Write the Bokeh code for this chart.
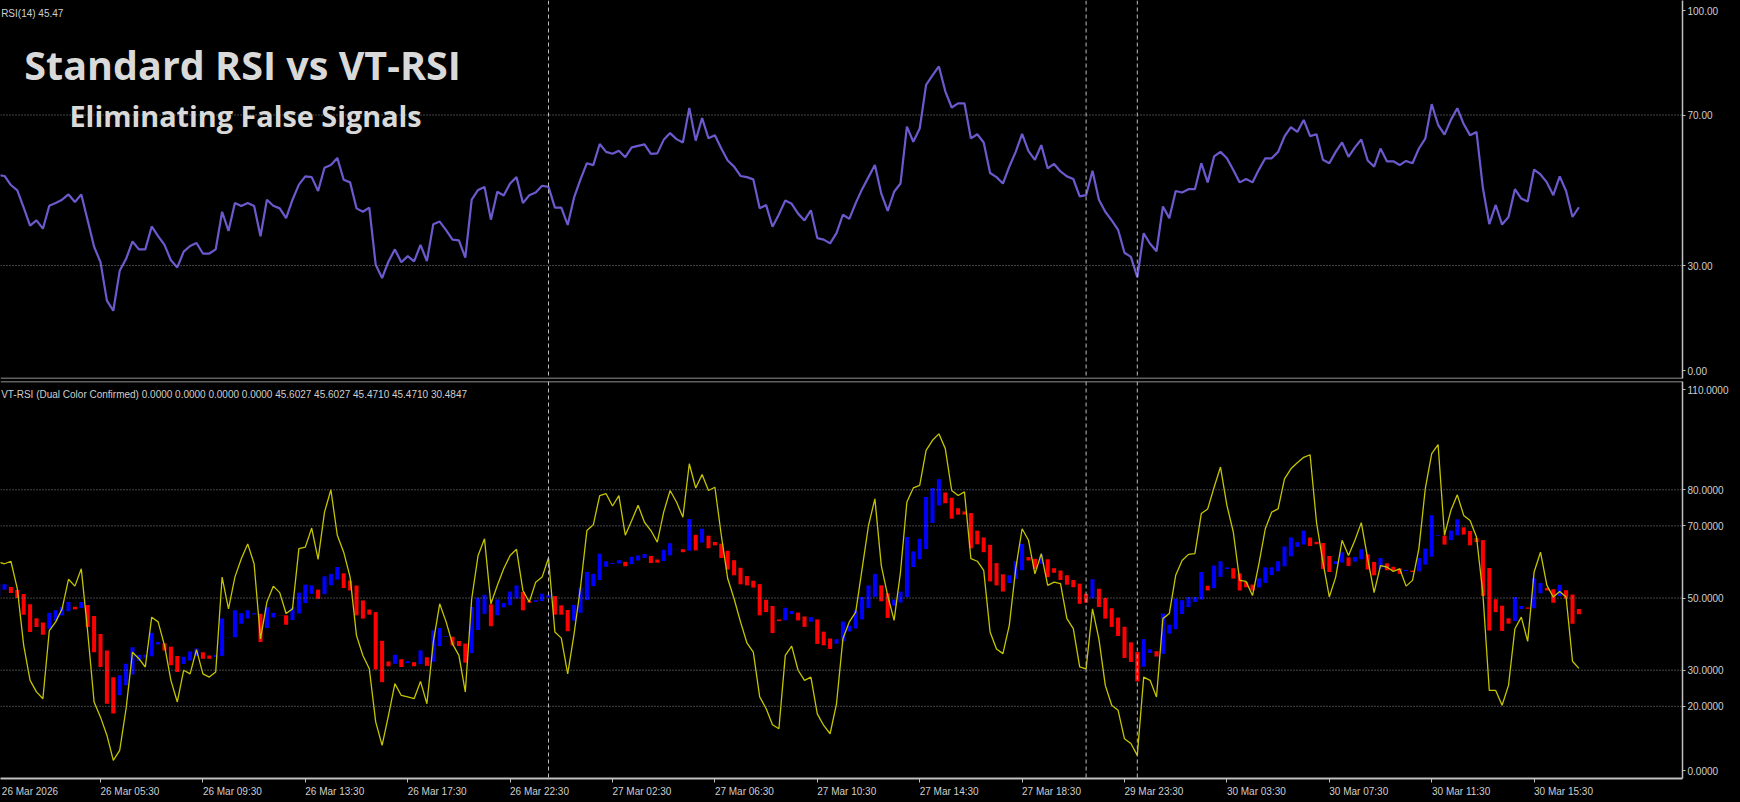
from bokeh.plotting import figure
from bokeh.models import (Range1d, LinearAxis, FixedTicker, Span, Label,
                          ColumnDataSource, CustomJSTickFormatter)
from bokeh.layouts import column
from bokeh.embed import file_html
from bokeh.resources import INLINE

# ---------------- data ----------------
first_bar = -16  # bar index of first value (0 = 26 Mar 05:30, M15 bars)

# RSI(14) = VT-RSI close
rsi = [
    54.0, 53.8, 51.4, 50.0, 45.4, 40.6, 42.0, 39.8, 45.9, 46.6,
    47.5, 48.9, 46.9, 48.9, 42.0, 35.0, 30.9, 20.7, 18.0, 28.6,
    31.8, 36.4, 34.3, 34.3, 40.4, 37.8, 35.5, 31.4, 29.5, 33.7,
    35.2, 36.0, 33.2, 33.2, 34.3, 44.3, 39.2, 46.6, 45.8, 46.6,
    45.8, 37.8, 47.5, 45.9, 45.2, 42.6, 47.5, 51.5, 53.7, 53.5,
    49.8, 56.0, 56.7, 58.6, 52.8, 52.1, 45.2, 44.3, 45.4, 30.2,
    26.7, 31.1, 34.3, 30.9, 32.5, 31.1, 35.5, 31.2, 41.0, 41.7,
    39.4, 36.9, 36.7, 32.1, 47.5, 50.1, 50.9, 42.2, 49.6, 48.6,
    51.8, 53.5, 46.6, 48.7, 49.4, 51.2, 50.9, 45.4, 45.4, 40.8,
    48.1, 52.9, 57.2, 56.7, 62.3, 60.2, 59.7, 60.5, 58.8, 61.4,
    61.8, 62.2, 59.7, 59.8, 63.4, 65.2, 63.6, 62.7, 71.9, 63.2,
    69.2, 63.8, 64.6, 61.1, 57.9, 56.3, 53.8, 53.5, 52.9, 45.2,
    46.1, 40.3, 43.6, 47.3, 46.4, 43.8, 42.0, 44.7, 37.3, 36.9,
    35.9, 38.6, 43.5, 42.4, 46.6, 50.3, 53.5, 56.7, 49.1, 44.5,
    49.6, 51.8, 66.9, 62.9, 66.4, 78.0, 80.5, 82.9, 76.3, 72.0,
    73.1, 73.1, 63.8, 64.9, 62.7, 54.6, 53.5, 51.8, 56.3, 60.2,
    65.0, 60.4, 58.1, 62.0, 55.8, 57.0, 55.0, 53.7, 53.0, 48.4,
    48.7, 55.2, 47.5, 44.3, 42.0, 39.5, 33.4, 32.3, 26.9, 38.6,
    35.8, 33.8, 45.7, 42.6, 49.8, 49.4, 50.3, 50.3, 57.2, 52.1,
    59.0, 60.2, 58.5, 55.4, 52.1, 53.0, 52.1, 55.5, 58.5, 58.5,
    60.2, 64.3, 66.8, 65.5, 68.7, 64.4, 64.9, 58.1, 57.2, 60.2,
    62.7, 58.9, 61.4, 63.5, 57.9, 56.3, 61.1, 57.7, 57.7, 56.7,
    57.8, 57.2, 61.1, 63.7, 72.9, 67.4, 64.8, 68.7, 71.8, 67.6,
    64.6, 65.5, 50.6, 41.0, 46.1, 40.9, 42.9, 50.3, 47.8, 47.0,
    55.5, 54.2, 52.1, 48.7, 53.7, 49.8, 42.9, 45.5,
]

# fast (yellow) line
fast = [
    60.0, 59.5, 60.2, 52.6, 36.9, 27.2, 24.0, 22.1, 41.0, 43.4,
    47.0, 55.2, 53.3, 58.1, 40.6, 21.2, 17.0, 12.0, 5.0, 7.8,
    19.4, 35.0, 33.2, 30.9, 44.7, 43.4, 36.9, 27.2, 21.2, 30.0,
    29.0, 35.7, 29.0, 28.1, 29.5, 55.8, 47.0, 55.8, 60.9, 65.0,
    59.5, 38.7, 48.9, 53.3, 51.5, 45.7, 47.0, 63.7, 64.1, 69.4,
    60.7, 73.8, 80.0, 67.4, 62.7, 55.8, 39.6, 34.1, 30.4, 15.7,
    9.2, 17.5, 26.3, 23.0, 22.6, 22.1, 26.9, 20.7, 37.8, 48.4,
    43.4, 37.3, 34.1, 24.0, 49.8, 61.8, 66.4, 48.4, 53.5, 58.1,
    61.8, 63.5, 52.1, 48.9, 54.4, 55.8, 61.1, 40.6, 38.9, 29.0,
    40.1, 53.0, 68.7, 70.3, 78.4, 78.9, 75.5, 78.4, 67.4, 71.5,
    75.7, 71.0, 68.7, 65.5, 73.8, 79.8, 76.6, 72.4, 87.2, 80.5,
    84.2, 79.8, 80.7, 67.4, 55.4, 49.8, 43.4, 37.6, 35.0, 22.6,
    19.4, 14.9, 13.8, 34.1, 36.7, 30.0, 27.2, 28.1, 17.9, 14.7,
    12.4, 20.7, 38.7, 43.4, 46.1, 58.1, 70.1, 77.5, 59.0, 50.7,
    43.8, 57.2, 76.6, 80.5, 81.2, 90.9, 93.7, 95.5, 91.4, 79.8,
    78.4, 79.4, 60.9, 60.2, 57.7, 40.6, 35.9, 34.6, 42.4, 58.1,
    69.2, 66.0, 56.7, 62.3, 53.5, 54.4, 54.0, 44.3, 41.5, 30.9,
    30.4, 47.0, 38.7, 25.8, 20.3, 18.9, 11.0, 9.7, 6.4, 28.1,
    27.2, 22.6, 44.3, 45.7, 56.3, 60.4, 62.1, 62.3, 73.4, 74.7,
    80.7, 86.3, 75.7, 68.3, 54.9, 54.6, 50.7, 59.5, 69.2, 73.8,
    74.7, 83.0, 85.8, 87.5, 89.0, 89.7, 71.0, 60.0, 50.3, 55.8,
    66.0, 61.8, 66.0, 70.9, 60.9, 51.5, 59.0, 58.6, 57.4, 58.1,
    53.3, 54.9, 63.7, 80.3, 90.0, 92.5, 67.4, 74.3, 78.6, 72.9,
    71.5, 66.9, 51.2, 24.4, 24.4, 20.3, 25.8, 41.5, 44.7, 38.0,
    57.2, 62.7, 53.5, 50.3, 51.8, 50.3, 32.5, 30.5,
]

vt_open0 = 50.6  # open of the first VT-RSI candle

tick_bars = [-16, 0, 16, 32, 48, 64, 80, 96, 112, 128, 144, 160, 176, 192, 208, 224]
tick_labels = ["26 Mar 2026", "26 Mar 05:30", "26 Mar 09:30", "26 Mar 13:30",
               "26 Mar 17:30", "26 Mar 22:30", "27 Mar 02:30", "27 Mar 06:30",
               "27 Mar 10:30", "27 Mar 14:30", "27 Mar 18:30", "29 Mar 23:30",
               "30 Mar 03:30", "30 Mar 07:30", "30 Mar 11:30", "30 Mar 15:30"]
day_separators = [70, 154, 162]

rsi_levels = [30, 70]
rsi_scale = [0, 30, 70, 100]
rsi_scale_labels = ["0.00", "30.00", "70.00", "100.00"]
vt_levels = [20, 30, 50, 70, 80]
vt_scale = [0, 20, 30, 50, 70, 80, 110]
vt_scale_labels = ["0.0000", "20.0000", "30.0000", "50.0000", "70.0000", "80.0000", "110.0000"]

rsi_legend = "RSI(14) 45.47"
vt_legend = ("VT-RSI (Dual Color Confirmed) 0.0000 0.0000 0.0000 0.0000 "
             "45.6027 45.6027 45.4710 45.4710 30.4847")
title_text = "Standard RSI vs VT-RSI"
subtitle_text = "Eliminating False Signals"

# ---------------- derived ----------------
n = len(rsi)
bars = list(range(first_bar, first_bar + n))
opens = []
o = vt_open0
for c in rsi:
    opens.append(o)
    o = (o + c) / 2.0
tops = [max(a, b) for a, b in zip(opens, rsi)]
bots = [min(a, b) for a, b in zip(opens, rsi)]
cols = ["#0000ff" if c >= a else "#ff0000" for a, c in zip(opens, rsi)]

# ---------------- style ----------------
SMALL_FONT = "Liberation Sans"
SMALL_SIZE = "10px"
TXT = "#cfcfcf"
AXC = "#c0c0c0"
GRID = "#8a8a8a"
X0, X1 = -15.625, 247.1875
UP_TOP = 100.42

NEAREST_JS = """
let best = ''; let bd = 1e9;
for (let i = 0; i < pos.length; i++) {
  const d = Math.abs(pos[i] - tick);
  if (d < bd) { bd = d; best = labs[i]; }
}
return best;
"""


def base_fig(height, ymax, top_border, bottom_border):
    p = figure(width=1740, height=height, x_range=Range1d(X0, X1),
               y_range=Range1d(0, ymax), output_backend="svg",
               toolbar_location=None, min_border_left=0, min_border_right=58,
               min_border_top=top_border, min_border_bottom=bottom_border,
               background_fill_color="black", border_fill_color="black",
               outline_line_color=None, x_axis_location=None, y_axis_location=None)
    p.xgrid.visible = False
    p.ygrid.visible = False
    return p


def right_axis(p, scale, labels, px_per_unit, top_shift_px, bottom_shift_px):
    # the extreme labels sit inside the pane, as in the terminal
    pos = list(scale)
    pos[0] = scale[0] + bottom_shift_px / px_per_unit
    pos[-1] = scale[-1] - top_shift_px / px_per_unit
    ax = LinearAxis(ticker=FixedTicker(ticks=pos),
                    formatter=CustomJSTickFormatter(args=dict(pos=pos, labs=labels),
                                                    code=NEAREST_JS))
    ax.axis_line_color = AXC
    ax.axis_line_width = 1.5
    ax.major_tick_line_color = AXC
    ax.major_tick_in = 0
    ax.major_tick_out = 3
    ax.minor_tick_line_color = None
    ax.major_label_standoff = 2
    ax.major_label_text_color = TXT
    ax.major_label_text_font = SMALL_FONT
    ax.major_label_text_font_size = SMALL_SIZE
    p.add_layout(ax, "right")
    return ax


def hlines(p, levels):
    for lv in levels:
        p.add_layout(Span(location=lv, dimension="width", line_color=GRID,
                          line_dash="1 2", line_width=1))


def vlines(p):
    for d in day_separators:
        p.add_layout(Span(location=d, dimension="height", line_color="#bdbdbd",
                          line_dash="4 3", line_width=1))


# ---------------- upper panel: RSI(14) ----------------
p1 = base_fig(379, UP_TOP, 0, 1)
right_axis(p1, rsi_scale, rsi_scale_labels, 378 / UP_TOP, 8.6, 8.0)
hlines(p1, rsi_levels)
vlines(p1)
p1.add_layout(Span(location=0, dimension="width", line_color=AXC, line_width=1.5))
p1.line(bars, rsi, line_color="#6a5acd", line_width=2.2)
p1.add_layout(Label(x=X0 + 0.1, y=97.0, text=rsi_legend, text_baseline="middle",
                    text_color=TXT, text_font=SMALL_FONT, text_font_size=SMALL_SIZE))
p1.add_layout(Label(x=-11.9, y=83.3, text=title_text, text_baseline="alphabetic",
                    text_color="#d9d9d9", text_font="Open Sans", text_font_style="bold",
                    text_font_size="39.5px"))
p1.add_layout(Label(x=-4.85, y=70.0, text=subtitle_text, text_baseline="alphabetic",
                    text_color="#d9d9d9", text_font="Open Sans", text_font_style="bold",
                    text_font_size="28.8px"))

# ---------------- lower panel: VT-RSI ----------------
p2 = base_fig(423, 110, 2, 24)
right_axis(p2, vt_scale, vt_scale_labels, 397 / 110, 8.0, 8.0)
hlines(p2, vt_levels)
vlines(p2)
p2.add_layout(Span(location=110, dimension="width", line_color=AXC, line_width=1.5))

src = ColumnDataSource(dict(x=bars, top=tops, bottom=bots, color=cols))
p2.vbar(x="x", top="top", bottom="bottom", width=0.63, fill_color="color",
        line_color=None, source=src)
p2.line(bars, fast, line_color="#c4c400", line_width=1.3)

# time axis: tick marks at the bars, labels start at their tick (left aligned)
xax = LinearAxis(ticker=FixedTicker(ticks=tick_bars))
xax.major_label_overrides = {t: "" for t in tick_bars}
xax.major_label_text_font_size = "0px"
xax.axis_line_color = AXC
xax.axis_line_width = 2
xax.major_tick_line_color = AXC
xax.major_tick_in = 0
xax.major_tick_out = 4
xax.minor_tick_line_color = None
xax.major_label_standoff = 0
p2.add_layout(xax, "below")

half_label = 4.6  # half a label's width, in bars
label_pos = [max(t, X0) + half_label for t in tick_bars]
lab_ax = LinearAxis(ticker=FixedTicker(ticks=label_pos),
                    formatter=CustomJSTickFormatter(args=dict(pos=label_pos, labs=tick_labels),
                                                    code=NEAREST_JS))
lab_ax.axis_line_color = None
lab_ax.major_tick_line_color = None
lab_ax.minor_tick_line_color = None
lab_ax.major_tick_in = 0
lab_ax.major_tick_out = 0
lab_ax.major_label_standoff = 3
lab_ax.major_label_text_color = TXT
lab_ax.major_label_text_font = SMALL_FONT
lab_ax.major_label_text_font_size = SMALL_SIZE
p2.add_layout(lab_ax, "below")

p2.add_layout(Label(x=X0 + 0.1, y=106.3, text=vt_legend, text_baseline="middle",
                    text_color=TXT, text_font=SMALL_FONT, text_font_size=SMALL_SIZE))

layout = column(p1, p2, spacing=0)
layout.styles = {"background-color": "black"}

html = file_html(layout, INLINE)
html = html.replace("<body>", '<body style="background-color:#000000;">', 1)
open("out.html", "w").write(html)
